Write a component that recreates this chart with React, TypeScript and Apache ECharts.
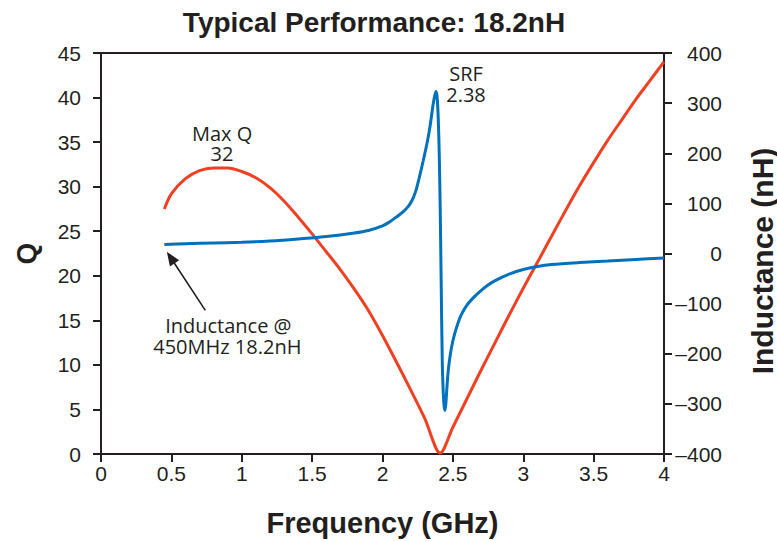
import React, { useEffect, useRef } from "react";
import * as echarts from "echarts";

// ---- Data ----
// Q (left axis) vs frequency (GHz)
const qFreq = [0.45, 0.5, 0.6, 0.7, 0.8, 0.9, 1.0, 1.1, 1.2, 1.3, 1.4, 1.5, 1.6, 1.7, 1.8, 1.9, 2.0, 2.1, 2.2, 2.3, 2.41, 2.5, 2.6, 2.7, 2.8, 2.9, 3.0, 3.1, 3.2, 3.3, 3.4, 3.5, 3.6, 3.7, 3.8, 3.9, 4.0];
const qValues = [27.5, 29.2, 30.9, 31.8, 32.1, 32.1, 31.7, 31.0, 29.9, 28.4, 26.6, 24.7, 22.7, 20.7, 18.5, 16.1, 13.3, 10.3, 7.2, 4.0, 0.1, 3.0, 6.2, 9.4, 12.5, 15.6, 18.6, 21.5, 24.4, 27.3, 30.1, 32.7, 35.2, 37.5, 39.8, 41.9, 44.0];

// Inductance (right axis, nH) vs frequency (GHz)
const lFreq = [0.45, 0.6, 0.8, 1.0, 1.2, 1.4, 1.6, 1.8, 1.9, 2.0, 2.05, 2.1, 2.15, 2.18, 2.2, 2.22, 2.24, 2.26, 2.29, 2.32, 2.34, 2.36, 2.372, 2.38, 2.388, 2.396, 2.403, 2.41, 2.417, 2.425, 2.432, 2.438, 2.444, 2.45, 2.457, 2.465, 2.475, 2.49, 2.51, 2.535, 2.56, 2.6, 2.65, 2.7, 2.75, 2.8, 2.9, 3.0, 3.1, 3.2, 3.4, 3.6, 3.8, 4.0];
const lValues = [18.2, 19.5, 21, 22.5, 25, 29, 34, 41, 46, 55, 63, 73, 84, 93, 101, 112, 128, 150, 186, 225, 258, 298, 316, 323, 312, 270, 200, 90, -60, -220, -280, -305, -313, -300, -270, -240, -215, -188, -163, -140, -122, -103, -87, -74, -63, -54, -41, -32, -26, -22, -18, -15, -12, -9];

// Axis ranges / ticks
const xRange = [0, 4];
const xStep = 0.5;
const qRange = [0, 45];
const qStep = 5;
const lRange = [-400, 400];
const lStep = 100;

// Annotation anchors (data space)
const maxQAnchor = [0.86, 32];
const srfAnchor = [2.38, 323];
const startAnchor = [0.45, 18.2];

const titleText = "Typical Performance: 18.2nH";
const xName = "Frequency (GHz)";
const qName = "Q";
const lName = "Inductance (nH)";
const maxQLines = ["Max Q", "32"];
const srfLines = ["SRF", "2.38"];
const startLines = ["Inductance @", "450MHz 18.2nH"];

const INK = "#231F20";
const RED = "#EE4123";
const BLUE = "#0072BC";
const SANS = "'Liberation Sans', Arial, Helvetica, sans-serif";
const NOTE = "'Open Sans', 'Noto Sans', sans-serif";

export default function App() {
  const ref = useRef<HTMLDivElement>(null);

  useEffect(() => {
    const el = ref.current;
    if (!el) return;
    const chart = echarts.init(el, null, { renderer: "svg" });

    const axisLine = { show: true, onZero: false, lineStyle: { color: INK, width: 2 } };
    const axisTick = { show: true, inside: false, length: 8, lineStyle: { color: INK, width: 2 } };
    const labelStyle = { color: INK, fontSize: 21, fontFamily: SANS };
    const nameStyle = { color: INK, fontSize: 29, fontWeight: "bold" as const, fontFamily: SANS };

    chart.setOption({
      animation: false,
      backgroundColor: "#ffffff",
      grid: { left: 101, right: 113, top: 53, bottom: 87, containLabel: false, outerBoundsMode: "none" },
      xAxis: [
        {
          type: "value",
          min: xRange[0],
          max: xRange[1],
          interval: xStep,
          position: "bottom",
          axisLine,
          axisTick,
          splitLine: { show: false },
          axisLabel: { ...labelStyle, margin: 9 },
          name: xName,
          nameLocation: "middle",
          nameGap: 54,
          nameTextStyle: nameStyle,
        },
        {
          type: "value",
          min: xRange[0],
          max: xRange[1],
          position: "top",
          axisLine,
          axisTick: { show: false },
          axisLabel: { show: false },
          splitLine: { show: false },
        },
      ],
      yAxis: [
        {
          type: "value",
          min: qRange[0],
          max: qRange[1],
          interval: qStep,
          position: "left",
          axisLine,
          axisTick,
          splitLine: { show: false },
          axisLabel: { ...labelStyle, margin: 20 },
          name: qName,
          nameLocation: "middle",
          nameGap: 61,
          nameTextStyle: { ...nameStyle, fontSize: 28 },
        },
        {
          type: "value",
          min: lRange[0],
          max: lRange[1],
          interval: lStep,
          position: "right",
          axisLine,
          axisTick,
          splitLine: { show: false },
          axisLabel: {
            ...labelStyle,
            margin: 58,
            align: "right",
            formatter: (v: number) => (v < 0 ? "\u2013" + Math.abs(v) : String(v)),
          },
        },
      ],
      series: [
        {
          name: "Q",
          type: "line",
          xAxisIndex: 0,
          yAxisIndex: 0,
          data: qFreq.map((f, i) => [f, qValues[i]]),
          showSymbol: false,
          smooth: 0.3,
          lineStyle: { color: RED, width: 3 },
          itemStyle: { color: RED },
          z: 2,
        },
        {
          name: "Inductance",
          type: "line",
          xAxisIndex: 0,
          yAxisIndex: 1,
          data: lFreq.map((f, i) => [f, lValues[i]]),
          showSymbol: false,
          smooth: 0.3,
          lineStyle: { color: BLUE, width: 3 },
          itemStyle: { color: BLUE },
          z: 3,
        },
      ],
    });

    const px = (p: number[], yi: number) =>
      chart.convertToPixel({ xAxisIndex: 0, yAxisIndex: yi }, p) as number[];
    const mq = px(maxQAnchor, 0);
    const srf = px(srfAnchor, 1);
    const st = px(startAnchor, 1);

    // arrow geometry (relative to start anchor)
    const tip = [st[0] + 2.5, st[1] + 7.3];
    const tail = [st[0] + 41, st[1] + 66];
    const dx = tip[0] - tail[0];
    const dy = tip[1] - tail[1];
    const len = Math.sqrt(dx * dx + dy * dy);
    const ux = dx / len;
    const uy = dy / len;
    const headLen = 14;
    const headHalf = 5.5;
    const base = [tip[0] - ux * headLen, tip[1] - uy * headLen];
    const perp = [-uy, ux];

    const note = (text: string, x: number, y: number) => ({
      type: "text",
      x,
      y,
      style: {
        text,
        fill: INK,
        fontSize: 20,
        fontFamily: NOTE,
        align: "center",
        verticalAlign: "middle",
      },
    });

    chart.setOption({
      graphic: [
        {
          type: "text",
          x: 374,
          y: 22,
          style: {
            text: titleText,
            fill: INK,
            fontSize: 28,
            fontWeight: "bold",
            fontFamily: SANS,
            align: "center",
            verticalAlign: "middle",
          },
        },
        {
          type: "text",
          x: 762,
          y: 261,
          rotation: Math.PI / 2,
          style: {
            text: lName,
            fill: INK,
            fontSize: 30,
            fontWeight: "bold",
            fontFamily: SANS,
            align: "center",
            verticalAlign: "middle",
          },
        },
        note(maxQLines[0], mq[0], mq[1] - 35.5),
        note(maxQLines[1], mq[0], mq[1] - 15),
        note(srfLines[0], srf[0] + 30, srf[1] - 18),
        note(srfLines[1], srf[0] + 30, srf[1] + 2.5),
        note(startLines[0], st[0] + 64, st[1] + 81),
        note(startLines[1], st[0] + 63, st[1] + 102),
        {
          type: "line",
          shape: { x1: tail[0], y1: tail[1], x2: base[0] + ux * 2, y2: base[1] + uy * 2 },
          style: { stroke: INK, lineWidth: 1.6 },
        },
        {
          type: "polygon",
          shape: {
            points: [
              tip,
              [base[0] + perp[0] * headHalf, base[1] + perp[1] * headHalf],
              [base[0] - perp[0] * headHalf, base[1] - perp[1] * headHalf],
            ],
          },
          style: { fill: INK },
        },
      ],
    });

    return () => chart.dispose();
  }, []);

  return (
    <div
      ref={ref}
      style={{ position: "fixed", left: 0, top: 0, width: 777, height: 541, background: "#fff" }}
    />
  );
}
